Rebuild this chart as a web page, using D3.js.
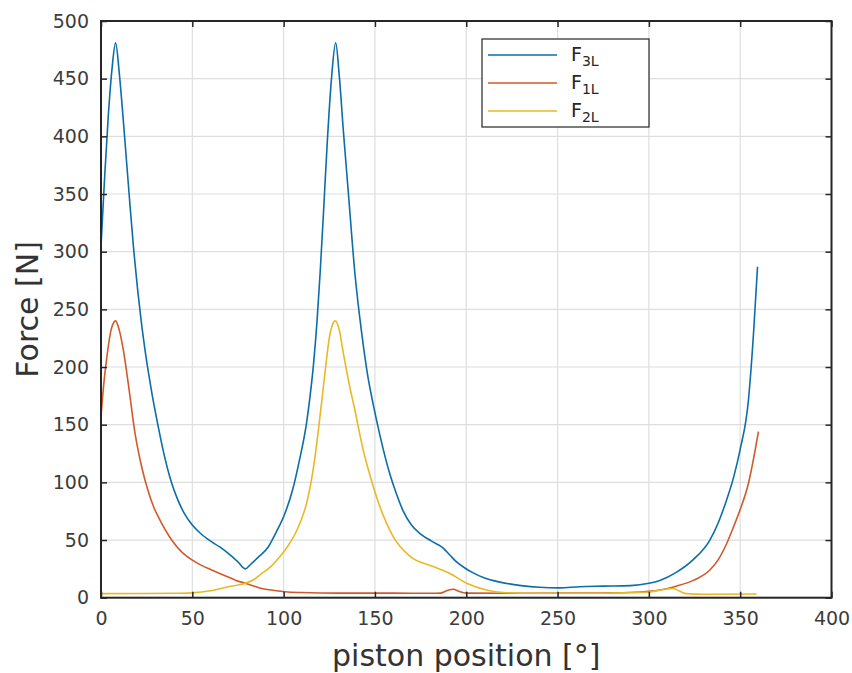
<!DOCTYPE html>
<html>
<head>
<meta charset="utf-8">
<script src="https://cdn.jsdelivr.net/npm/d3@7"></script>
<style>
  html, body { margin: 0; padding: 0; background: #fff; }
  svg { display: block; font-family: "DejaVu Sans", Verdana, sans-serif; }
</style>
</head>
<body>
<div id="chart"></div>
<script>
// data: angle [deg] and force [N] for each series
var f3lAngle = [0, 2, 4, 6, 8, 10, 12, 14, 16, 18, 20, 22, 24, 26, 28, 30.5, 34, 38, 42, 46, 50, 55, 60, 65, 70, 75, 79,
    82, 86, 91.6, 96, 100.7, 105, 108.5, 112.6, 114.5, 116.4, 118.3, 120, 121.8, 123.9, 126.2, 128.5, 130.5, 132.7,
    135.4, 139.1, 142.7, 146, 149, 152.7, 158.2, 162, 165.5, 170, 174.7, 181, 187.4, 191, 194.7, 199, 203.8, 210,
    218.5, 230, 240, 251, 262, 275, 290, 300, 306, 315, 324.3, 333.4, 338, 342.6, 346.5, 349.9, 354.5, 357.3, 359.5];
var f3lForce = [305, 365, 418, 458, 481, 455, 418, 378, 338, 300, 268, 240, 216, 195, 176, 155, 128, 103, 85, 72, 63, 55, 49, 44, 38, 31, 25,
    29, 35, 44, 57, 73, 94, 118, 152, 175, 203, 240, 282, 333, 395, 450, 481, 452, 405,
    352, 280, 230, 193, 168, 141, 107, 89, 75, 63, 55.5, 49, 43, 37, 31, 26, 21.5, 17,
    13.5, 10.5, 9, 8.5, 9.5, 10, 10.5, 12.5, 15, 22, 33, 50, 65, 85, 105, 128, 171, 229, 287];

var f1lAngle = [0, 1.5, 3, 5.5, 8, 10, 12.2, 14.9, 18.6, 22.2, 25.9, 29, 31.4, 38.7, 44, 49.6, 55, 60.6, 65, 69.6, 74, 79,
    84, 88, 95, 100.7, 110, 130, 160, 180, 186, 190, 193, 196, 200, 230, 260, 290, 300, 306, 315, 324.3, 333.4,
    338, 342.6, 346.5, 349.9, 354.5, 358.2, 360];
var f1lForce = [157, 185, 206, 232, 240, 232, 215, 186, 143, 114, 92, 78, 70, 50, 40, 33, 28, 24, 21, 18, 15, 12.5,
    10, 8, 6.3, 5.2, 4.5, 4, 4, 3.8, 4, 6.5, 7.3, 5.5, 4, 3.8, 4, 4.5, 5.5, 6.7, 10, 15, 24,
    33, 47, 62, 76, 99, 128, 144];

var f2lAngle = [0, 20, 40, 49.6, 60, 69.6, 79, 84, 88, 93, 97.1, 102, 106.2, 109, 112.6, 115, 117, 119, 121,
    123, 125, 126.8, 128.3, 130.5, 132.7, 135.4, 139.1, 141.8, 143.6, 147.3, 152.7, 160, 169.1, 181.9, 191,
    200.2, 211.1, 220, 240, 270, 290, 300, 306, 310, 313.3, 317, 320.6, 330, 359];
var f2lForce = [3.5, 3.6, 3.8, 4.2, 6, 9.5, 12.5, 16, 21, 27, 34, 44, 55, 65, 82, 100, 120, 145, 172,
    200, 225, 237, 240, 232, 212, 189, 162, 141, 128, 106, 79, 53, 36, 27, 21,
    12.5, 6.7, 4.5, 3.8, 3.8, 4.5, 5, 6.5, 7.5, 8, 5.5, 3.5, 3, 3.2];

var xTicks = [0, 50, 100, 150, 200, 250, 300, 350, 400];
var yTicks = [0, 50, 100, 150, 200, 250, 300, 350, 400, 450, 500];

var seriesNames = ["3L", "1L", "2L"];
var seriesColors = ["#0b6ea8", "#d2592a", "#e9b825"];

var W = 852, H = 673;
var area = { left: 101, right: 831.5, top: 21, bottom: 597.7 };
var ink = "#262626";

var svg = d3.select("#chart").append("svg")
    .attr("width", W)
    .attr("height", H);

var xScale = d3.scaleLinear().domain([0, 400]).range([area.left, area.right]);
var yScale = d3.scaleLinear().domain([0, 500]).range([area.bottom, area.top]);

// grid
var grid_g = svg.append("g").attr("class", "grid");
grid_g.selectAll(".gx").data(xTicks).enter().append("line")
    .attr("x1", d => xScale(d)).attr("x2", d => xScale(d))
    .attr("y1", area.top).attr("y2", area.bottom)
    .attr("stroke", "#dedede").attr("stroke-width", 1.2);
grid_g.selectAll(".gy").data(yTicks).enter().append("line")
    .attr("x1", area.left).attr("x2", area.right)
    .attr("y1", d => yScale(d)).attr("y2", d => yScale(d))
    .attr("stroke", "#dedede").attr("stroke-width", 1.2);

// lines
var series = [
    { name: seriesNames[0], color: seriesColors[0], pts: d3.zip(f3lAngle, f3lForce) },
    { name: seriesNames[1], color: seriesColors[1], pts: d3.zip(f1lAngle, f1lForce) },
    { name: seriesNames[2], color: seriesColors[2], pts: d3.zip(f2lAngle, f2lForce) }
];

var line = d3.line()
    .x(d => xScale(d[0]))
    .y(d => yScale(d[1]))
    .curve(d3.curveMonotoneX);

svg.append("g").attr("class", "lines")
    .selectAll("path").data(series).enter().append("path")
    .attr("d", d => line(d.pts))
    .attr("fill", "none")
    .attr("stroke", d => d.color)
    .attr("stroke-width", 1.6)
    .attr("stroke-linejoin", "round");

// axes (MATLAB style box, ticks inside on all sides)
var tickLen = 6;
svg.append("g").attr("transform", "translate(0," + area.bottom + ")")
    .call(d3.axisBottom(xScale).tickValues(xTicks).tickSizeInner(-tickLen).tickSizeOuter(0).tickPadding(14))
    .call(g => g.select(".domain").remove());
svg.append("g").attr("transform", "translate(0," + area.top + ")")
    .call(d3.axisTop(xScale).tickValues(xTicks).tickSizeInner(-tickLen).tickSizeOuter(0).tickFormat(""))
    .call(g => g.select(".domain").remove());
svg.append("g").attr("transform", "translate(" + area.left + ",0)")
    .call(d3.axisLeft(yScale).tickValues(yTicks).tickSizeInner(-tickLen).tickSizeOuter(0).tickPadding(12))
    .call(g => g.select(".domain").remove());
svg.append("g").attr("transform", "translate(" + area.right + ",0)")
    .call(d3.axisRight(yScale).tickValues(yTicks).tickSizeInner(-tickLen).tickSizeOuter(0).tickFormat(""))
    .call(g => g.select(".domain").remove());

svg.selectAll(".tick line").attr("stroke", ink).attr("stroke-width", 1.5);
svg.selectAll(".tick text")
    .attr("fill", "#3c3c3c")
    .style("font-size", "19px")
    .style("font-family", "'DejaVu Sans', Verdana, sans-serif");

svg.append("rect")
    .attr("x", area.left).attr("y", area.top)
    .attr("width", area.right - area.left).attr("height", area.bottom - area.top)
    .attr("fill", "none").attr("stroke", ink).attr("stroke-width", 2);

// axis titles
svg.append("text")
    .attr("x", (area.left + area.right) / 2).attr("y", 666)
    .attr("text-anchor", "middle")
    .attr("fill", "#333")
    .style("font-size", "30px")
    .text("piston position [°]");
svg.append("text")
    .attr("transform", "translate(38," + (area.top + area.bottom) / 2 + ") rotate(-90)")
    .attr("text-anchor", "middle")
    .attr("fill", "#333")
    .style("font-size", "30px")
    .text("Force [N]");

// legend
var legend_g = svg.append("g").attr("class", "legend").attr("transform", "translate(482,39)");
legend_g.append("rect")
    .attr("width", 167).attr("height", 88)
    .attr("fill", "#fff").attr("stroke", ink).attr("stroke-width", 1.2);
var item = legend_g.selectAll(".item").data(series).enter().append("g")
    .attr("transform", (d, i) => "translate(0," + (16 + i * 28) + ")");
item.append("line")
    .attr("x1", 6).attr("x2", 75)
    .attr("stroke", d => d.color).attr("stroke-width", 1.6);
var label = item.append("text")
    .attr("x", 89).attr("y", 6)
    .attr("fill", "#262626")
    .style("font-size", "19px");
label.append("tspan").text("F");
label.append("tspan").attr("dy", 5).style("font-size", "14px").text(d => d.name);
</script>
</body>
</html>
